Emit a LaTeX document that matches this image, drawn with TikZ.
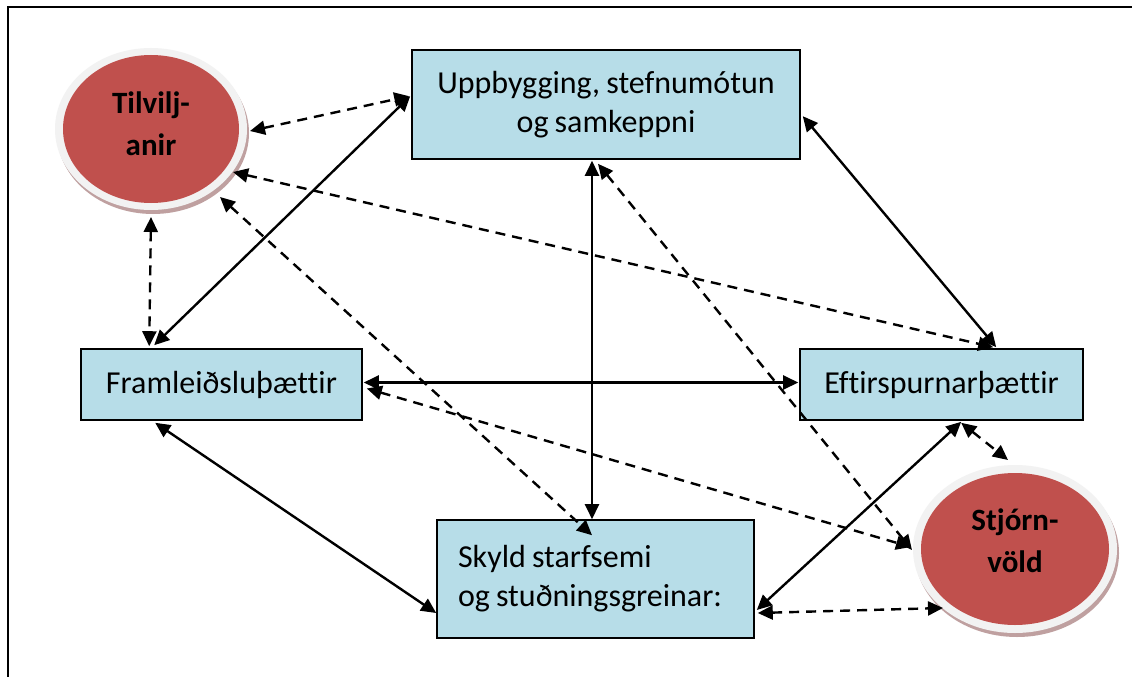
\documentclass[tikz,border=0pt]{standalone}
\usepackage{fontspec}
\setmainfont{Carlito}[Ligatures={NoCommon}, WordSpace=0.85]
\usetikzlibrary{arrows.meta,shapes.geometric,calc}
\definecolor{boxblue}{HTML}{B7DDE8}
\definecolor{redfill}{HTML}{C0504D}
\definecolor{rimgray}{HTML}{F2F2F2}
\definecolor{shadowc}{HTML}{BFA0A0}
\tikzset{
  boxnode/.style={draw=black, line width=1.6pt, fill=boxblue, rectangle, inner sep=0pt,
    font=\fontsize{32}{39}\selectfont, align=center},
  ellnode/.style={ellipse, fill=redfill, inner sep=0pt,
    font=\fontsize{31}{42}\selectfont\bfseries, align=center},
  solidarr/.style={line width=2.4pt, {Triangle[length=15pt,width=14pt]}-{Triangle[length=15pt,width=14pt]}},
  dasharr/.style={solidarr, dash pattern=on 10pt off 7pt}
}
\begin{document}
\begin{tikzpicture}[x=1pt,y=-1pt]
\useasboundingbox (0,0) rectangle (1132,677);
\fill[white] (0,0) rectangle (1132,677);
\draw[line width=1.5pt] (8,677) -- (8,7) -- (1132,7);
% ellipse backgrounds
\coordinate (Tc) at (151,129);
\coordinate (Sc) at (1015,549);
\fill[shadowc] ($(Tc)+(2,4)$) ellipse [x radius=96pt, y radius=81pt];
\fill[rimgray] (Tc) ellipse [x radius=96pt, y radius=81pt];
\fill[shadowc] ($(Sc)+(2,4)$) ellipse [x radius=102pt, y radius=84pt];
\fill[rimgray] (Sc) ellipse [x radius=102pt, y radius=84pt];
% nodes
\node[ellnode, minimum width=176pt, minimum height=148pt] (T) at (Tc) {Tilvilj-\\anir\\[-32pt]};
\node[ellnode, minimum width=188pt, minimum height=152pt] (St) at (Sc) {Stjórn-\\völd\\[-26pt]};
\node[boxnode, minimum width=388pt, minimum height=109pt] (U) at (606,104.5) {Uppbygging, stefnumótun\\og samkeppni};
\node[boxnode, minimum width=281pt, minimum height=71pt] (F) at (221.5,384.5) {Framleiðsluþættir};
\node[boxnode, minimum width=283pt, minimum height=71pt] (E) at (941.5,384.5) {Eftirspurnarþættir};
\node[boxnode, minimum width=317pt, minimum height=118pt, text width=275pt, align=flush left] (S) at (595.5,579)
  {Skyld starfsemi\\og stuðningsgreinar:\\[-25pt]};
% solid connectors
\draw[solidarr] ($(F.north west)+(74,-3)$) -- ($(U.north west)+(-1,47)$);
\draw[solidarr] ($(U.north east)+(2,67)$) -- ($(E.north west)+(197,-1)$);
\draw[solidarr] ($(F.east)+(1,-2)$) -- ($(E.west)+(-1,-2)$);
\draw[solidarr] ($(U.south)+(-14,1)$) -- ($(S.north)+(-3.5,0)$);
\draw[solidarr] ($(F.south west)+(75,2)$) -- ($(S.west)+(0,34)$);
\draw[solidarr] ($(S.east)+(2,31)$) -- ($(E.south west)+(162,1)$);
% dashed connectors
\draw[dasharr] ($(T.center)+(99,2)$) -- ($(U.north west)+(-2,47)$);
\draw[dasharr] ($(T.center)+(0,88)$) -- ($(F.north west)+(69,-2)$);
\draw[dasharr] ($(T.center)+(82,43)$) -- ($(E.north west)+(194,-1)$);
\draw[dasharr] ($(T.center)+(69,68)$) -- ($(S.north)+(-3.5,16)$);
\draw[dasharr] ($(U.south)+(-8,4)$) -- ($(St.center)+(-103,1)$);
\draw[dasharr] ($(F.east)+(4,4)$) -- ($(St.center)+(-104,-2)$);
\draw[dasharr] ($(E.south west)+(162,2)$) -- ($(St.center)+(-7,-89)$);
\draw[dasharr] ($(S.east)+(3,34)$) -- ($(St.center)+(-72,59)$);
\end{tikzpicture}
\end{document}
